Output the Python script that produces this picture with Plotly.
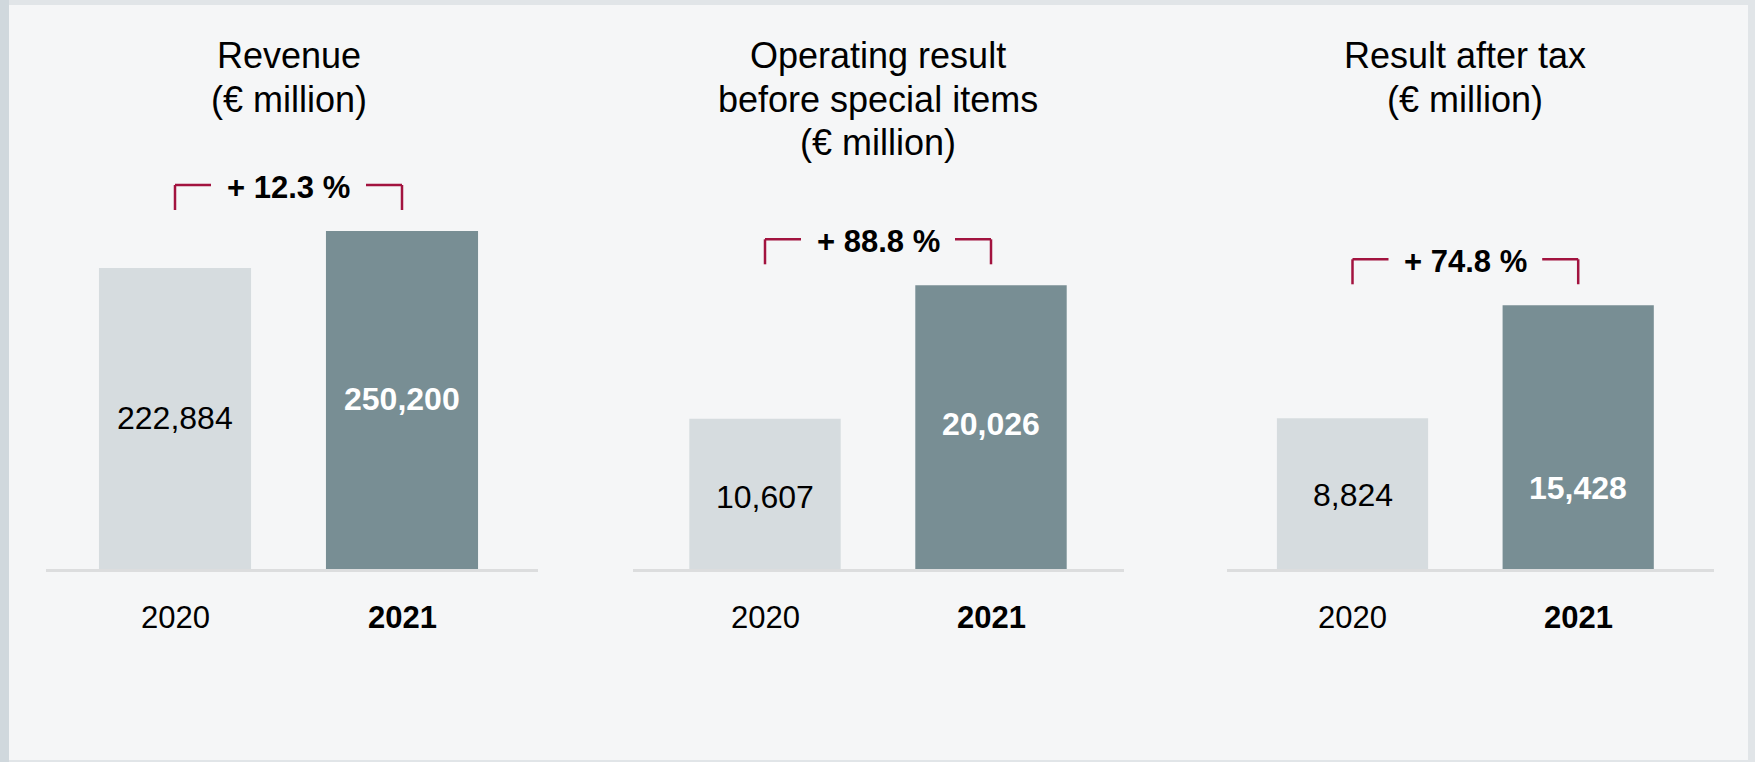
import plotly.graph_objects as go

# ---- data -------------------------------------------------------------
years = ["2020", "2021"]
panel_titles = [
    ["Revenue", "(€ million)"],
    ["Operating result", "before special items", "(€ million)"],
    ["Result after tax", "(€ million)"],
]
revenue = [222884, 250200]
operating_result = [10607, 20026]
result_after_tax = [8824, 15428]
series = [revenue, operating_result, result_after_tax]

# ---- layout / style ---------------------------------------------------
W, H = 1755, 762
FONT = "Liberation Sans, Arial, Helvetica, sans-serif"
C_PREV = "#D6DCDF"
C_CURR = "#788E94"
C_BRACKET = "#A2133F"
C_AXIS = "#DCDDDE"

BASE_PX = 569                      # baseline, pixels from top
TITLE_TOP_PX = 55.5                # centre of the first title line
TITLE_STEP_PX = 43.5               # distance between title lines
axis_px = [(46, 538), (632.5, 1123.5), (1226.5, 1713.7)]
center_px = [(175, 402), (765, 991), (1352.5, 1578.2)]
bar2_height_px = [338, 283.7, 263.7]
label_frac = [(0.50, 0.503), (0.48, 0.51), (0.49, 0.308)]

fig = go.Figure()
annotations = []
shapes = []

# frame + background
shapes.append(dict(type="rect", xref="paper", yref="paper",
                   x0=9 / W, x1=1748 / W, y0=1 - 760 / H, y1=1 - 5 / H,
                   fillcolor="#F5F6F7", line_width=0, layer="below"))
shapes.append(dict(type="rect", xref="paper", yref="paper",
                   x0=0, x1=9 / W, y0=0, y1=1,
                   fillcolor="#D0D8DD", line_width=0, layer="below"))

for i, vals in enumerate(series):
    n = "" if i == 0 else str(i + 1)
    xa, ya = "x" + n, "y" + n
    (x0, x1), (c0, c1) = axis_px[i], center_px[i]
    step = c1 - c0
    ymax = vals[1] * BASE_PX / bar2_height_px[i]

    fig.add_trace(go.Bar(
        x=[0, 1], y=vals, width=0.67,
        marker=dict(color=[C_PREV, C_CURR], line_width=0),
        xaxis=xa, yaxis=ya, hoverinfo="skip", showlegend=False,
    ))

    fig.layout["xaxis" + n] = dict(
        domain=[x0 / W, x1 / W], anchor=ya,
        range=[(x0 - c0) / step, (x1 - c0) / step],
        showline=True, linecolor=C_AXIS, linewidth=3,
        showgrid=False, zeroline=False, showticklabels=False, ticks="",
        fixedrange=True,
    )
    fig.layout["yaxis" + n] = dict(
        domain=[1 - BASE_PX / H, 1], anchor=xa, range=[0, ymax],
        visible=False, fixedrange=True,
    )

    # panel title, one annotation per line
    for k, line in enumerate(panel_titles[i]):
        annotations.append(dict(
            xref="paper", yref="paper", x=(c0 + c1) / 2 / W,
            y=1 - (TITLE_TOP_PX + k * TITLE_STEP_PX) / H,
            xanchor="center", yanchor="middle", showarrow=False,
            text=line, font=dict(family=FONT, size=36, color="#000000"),
        ))

    # values inside the bars
    for j, v in enumerate(vals):
        txt = f"{v:,}"
        annotations.append(dict(
            xref=xa, yref=ya, x=j, y=v * label_frac[i][j],
            xanchor="center", yanchor="middle", showarrow=False,
            text=txt if j == 0 else f"<b>{txt}</b>",
            font=dict(family=FONT, size=32,
                      color="#000000" if j == 0 else "#FFFFFF"),
        ))
        # year label under the axis
        annotations.append(dict(
            xref=xa, yref=ya, x=j, y=0, yshift=-48,
            xanchor="center", yanchor="middle", showarrow=False,
            text=years[j] if j == 0 else f"<b>{years[j]}</b>",
            font=dict(family=FONT, size=31, color="#000000"),
        ))

    # growth bracket above the bars
    growth = (vals[1] / vals[0] - 1) * 100
    arm = 36 / step
    for xs0, xs1, ys0, ys1 in [
        (0, 0, 21, 46), (0, arm, 46, 46),
        (1 - arm, 1, 46, 46), (1, 1, 21, 46),
    ]:
        shapes.append(dict(
            type="line", xref=xa, yref=ya, x0=xs0, x1=xs1,
            ysizemode="pixel", yanchor=vals[1], y0=ys0, y1=ys1,
            line=dict(color=C_BRACKET, width=2.5),
        ))
    annotations.append(dict(
        xref=xa, yref=ya, x=0.5, y=vals[1], yshift=44,
        xanchor="center", yanchor="middle", showarrow=False,
        text=f"<b>+ {growth:.1f} %</b>",
        font=dict(family=FONT, size=31, color="#000000"),
    ))

fig.update_layout(
    width=W, height=H,
    margin=dict(l=0, r=0, t=0, b=0),
    paper_bgcolor="#E1E5E8",
    plot_bgcolor="rgba(0,0,0,0)",
    annotations=annotations,
    shapes=shapes,
    showlegend=False,
    hovermode=False,
)

fig.write_html("out.html", config={"displayModeBar": False})
